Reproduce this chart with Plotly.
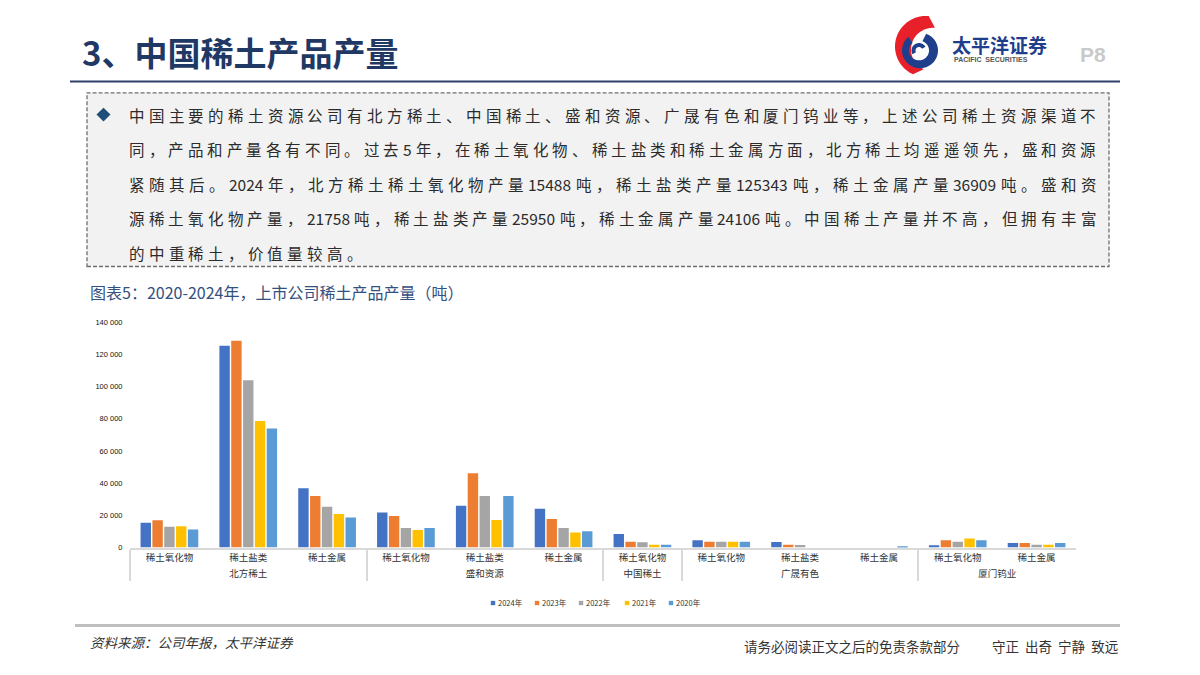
import re
import math
import plotly.graph_objects as go

# ---------------- data ----------------
companies = ["北方稀土", "北方稀土", "北方稀土", "盛和资源", "盛和资源", "盛和资源",
             "中国稀土", "广晟有色", "广晟有色", "广晟有色", "厦门钨业", "厦门钨业"]
products = ["稀土氧化物", "稀土盐类", "稀土金属", "稀土氧化物", "稀土盐类", "稀土金属",
            "稀土氧化物", "稀土氧化物", "稀土盐类", "稀土金属", "稀土氧化物", "稀土金属"]
years = ["2024年", "2023年", "2022年", "2021年", "2020年"]
v2024 = [15488, 125343, 36909, 21758, 25950, 24106, 8400, 4600, 3500, None, 1500, 2800]
v2023 = [17000, 128400, 32000, 19600, 46100, 17700, 3600, 3600, 1800, None, 4500, 2800]
v2022 = [12900, 104000, 25300, 12100, 32000, 12100, 3300, 3600, 1600, None, 3600, 1700]
v2021 = [13300, 78700, 20800, 10900, 17100, 9400, 1700, 3600, None, None, 5700, 1700]
v2020 = [11300, 74000, 18700, 12100, 32000, 10200, 1700, 3600, None, 500, 4500, 2800]
series = [v2024, v2023, v2022, v2021, v2020]
colors = ["#4472C4", "#ED7D31", "#A5A5A5", "#FFC000", "#5B9BD5"]
ytick_vals = [0, 20000, 40000, 60000, 80000, 100000, 120000, 140000]

title_text = "3、中国稀土产品产量"
chart_title = "图表5：2020-2024年，上市公司稀土产品产量（吨）"
body_lines = [
    "中国主要的稀土资源公司有北方稀土、中国稀土、盛和资源、广晟有色和厦门钨业等，上述公司稀土资源渠道不",
    "同，产品和产量各有不同。过去5年，在稀土氧化物、稀土盐类和稀土金属方面，北方稀土均遥遥领先，盛和资源",
    "紧随其后。2024年，北方稀土稀土氧化物产量15488吨，稀土盐类产量125343吨，稀土金属产量36909吨。盛和资",
    "源稀土氧化物产量，21758吨，稀土盐类产量25950吨，稀土金属产量24106吨。中国稀土产量并不高，但拥有丰富",
    "的中重稀土，价值量较高。",
]
source_text = "资料来源：公司年报，太平洋证券"
disclaimer = "请务必阅读正文之后的免责条款部分"
motto = "守正  出奇  宁静  致远"

OX, OY = 8, 8          # page body margin offset
W, H = 1200 - 2 * OX, 675 - 2 * OY
CJK = "Noto Sans CJK SC"


def px(x, y):
    return (x - OX) / W, 1 - (y - OY) / H


fig = go.Figure()
for name, vals, c in zip(years, series, colors):
    fig.add_trace(go.Bar(x=[companies, products], y=vals, name=name,
                         marker=dict(color=c, line=dict(width=0)),
                         showlegend=False))

plot_l, plot_r = 130, 1076
plot_b, plot_t = 551, 322.5

fig.update_layout(
    width=W, height=H,
    margin=dict(l=0, r=0, t=0, b=0),
    paper_bgcolor="white", plot_bgcolor="rgba(0,0,0,0)",
    barmode="group", bargap=0.25, bargroupgap=0.12,
    font=dict(family=CJK, color="#222"),
    xaxis=dict(domain=[px(plot_l, 0)[0], px(plot_r, 0)[0]], showgrid=False,
               showline=True, linecolor="#D9D9D9", linewidth=2,
               tickfont=dict(size=9.5, family=CJK, color="#333"),
               showdividers=True, dividercolor="#D9D9D9", dividerwidth=1.5,
               ticks=""),
    yaxis=dict(domain=[px(0, plot_b)[1], px(0, plot_t)[1]], range=[0, 140000],
               showgrid=False, zeroline=False, showline=False,
               tickvals=ytick_vals, tickformat=",d",
               tickfont=dict(size=7.5, family="Liberation Sans", color="#111"),
               ticks="outside", ticklen=5, tickcolor="rgba(0,0,0,0)"),
    separators=". ",
)

shapes = []
annotations = []


def pts_path(pts):
    return "M " + " L ".join(f"{p[0]:.5f},{p[1]:.5f}" for p in pts) + " Z"


# title + header line
x0, y0 = px(80, 49)
annotations.append(dict(x=x0, y=y0, xref="paper", yref="paper", xanchor="left", yanchor="middle",
                        text="<b>" + title_text + "</b>", showarrow=False,
                        font=dict(size=33, family=CJK, color="#1F3864")))
a, b = px(70, 78.5)
c, d = px(1120, 78.5)
shapes.append(dict(type="line", xref="paper", yref="paper", x0=a, y0=b, x1=c, y1=d,
                   line=dict(color="#2E4068", width=2)))


# logo
def ring_path(cx, cy, r_out, r_in, a0, a1, cx2=None, cy2=None, n=60):
    cx2 = cx if cx2 is None else cx2
    cy2 = cy if cy2 is None else cy2
    pts = []
    for i in range(n + 1):
        t = math.radians(a0 + (a1 - a0) * i / n)
        pts.append(px(cx + r_out * math.cos(t), cy + r_out * math.sin(t)))
    for i in range(n + 1):
        t = math.radians(a1 - (a1 - a0) * i / n)
        pts.append(px(cx2 + r_in * math.cos(t), cy2 + r_in * math.sin(t)))
    return pts_path(pts)


shapes.append(dict(type="path", xref="paper", yref="paper",
                   path=ring_path(926, 43, 31, 22, -85, -245, cx2=933, cy2=46),
                   fillcolor="#E8202A", line=dict(width=0)))
shapes.append(dict(type="path", xref="paper", yref="paper",
                   path=ring_path(920, 47, 18, 10, -70, 230, cx2=919, cy2=47),
                   fillcolor="#1F3E8C", line=dict(width=0)))
shapes.append(dict(type="path", xref="paper", yref="paper",
                   path=ring_path(919, 47, 7.5, 3.5, 150, 330),
                   fillcolor="#1F3E8C", line=dict(width=0)))
x0, y0 = px(950, 41)
annotations.append(dict(x=x0, y=y0, xref="paper", yref="paper", xanchor="left", yanchor="middle",
                        text="<b>太平洋证券</b>", showarrow=False,
                        font=dict(size=19, family=CJK, color="#1F3E8C")))
x0, y0 = px(952, 56)
annotations.append(dict(x=x0, y=y0, xref="paper", yref="paper", xanchor="left", yanchor="middle",
                        text="<b>PACIFIC  SECURITIES</b>", showarrow=False,
                        font=dict(size=7, family="Liberation Sans", color="#555")))
x0, y0 = px(1078, 51)
annotations.append(dict(x=x0, y=y0, xref="paper", yref="paper", xanchor="left", yanchor="middle",
                        text="<b>P8</b>", showarrow=False,
                        font=dict(size=21, family="Liberation Sans", color="#C9C9C9")))

# text box
a, b = px(87, 90)
c, d = px(1109, 266)
shapes.append(dict(type="rect", xref="paper", yref="paper", x0=a, y0=d, x1=c, y1=b,
                   fillcolor="#F2F2F2", line=dict(color="#6E6E6E", width=1.3, dash="4px,2px"),
                   layer="below"))
dcx, dcy, dr = 103.5, 112, 7
shapes.append(dict(type="path", xref="paper", yref="paper",
                   path=pts_path([px(dcx, dcy - dr), px(dcx + dr, dcy),
                                  px(dcx, dcy + dr), px(dcx - dr, dcy)]),
                   fillcolor="#1F4E79", line=dict(width=0)))

FS = 15.5


def tokens_of(s):
    return re.findall(r"[0-9A-Za-z]+|.", s)


def tok_w(t):
    if re.match(r"[0-9A-Za-z]", t):
        return len(t) * 0.56 * FS
    return FS


line_y = [112, 147, 182, 217, 252]
tx0, tx1 = 127, 1094
pitch_gaps = []
for i, line in enumerate(body_lines):
    toks = tokens_of(line)
    widths = [tok_w(t) for t in toks]
    if i < len(body_lines) - 1:
        gap = (tx1 - tx0 - sum(widths)) / (len(toks) - 1)
        pitch_gaps.append(gap)
    else:
        gap = sum(pitch_gaps) / len(pitch_gaps)
    x = tx0
    for t, w in zip(toks, widths):
        xx, yy = px(x, line_y[i])
        annotations.append(dict(x=xx, y=yy, xref="paper", yref="paper", xanchor="left",
                                yanchor="middle", text=t, showarrow=False,
                                font=dict(size=FS, family=CJK, color="#2B2B2B")))
        x += w + gap

# chart title
x0, y0 = px(88, 292)
annotations.append(dict(x=x0, y=y0, xref="paper", yref="paper", xanchor="left", yanchor="middle",
                        text=chart_title, showarrow=False,
                        font=dict(size=16, family=CJK, color="#34507E")))

# legend (drawn from the series names/colours)
leg_x = [493, 537, 581, 627, 671]
for xL, name, c in zip(leg_x, years, colors):
    a, b = px(xL - 2.2, 605)
    c2, d = px(xL + 2.2, 609.4)
    shapes.append(dict(type="rect", xref="paper", yref="paper", x0=a, y0=d, x1=c2, y1=b,
                       fillcolor=c, line=dict(width=0)))
    xx, yy = px(xL + 3, 607)
    annotations.append(dict(x=xx, y=yy, xref="paper", yref="paper", xanchor="left",
                            yanchor="middle", text=name, showarrow=False,
                            font=dict(size=7.5, family=CJK, color="#333")))

# footer
a, b = px(75, 630)
c, d = px(1120, 630)
shapes.append(dict(type="line", xref="paper", yref="paper", x0=a, y0=b, x1=c, y1=d,
                   line=dict(color="#BFBFBF", width=3)))
x0, y0 = px(88, 647)
annotations.append(dict(x=x0, y=y0, xref="paper", yref="paper", xanchor="left", yanchor="middle",
                        text="<i>" + source_text + "</i>", showarrow=False,
                        font=dict(size=13.5, family=CJK, color="#333")))
x0, y0 = px(962, 651)
annotations.append(dict(x=x0, y=y0, xref="paper", yref="paper", xanchor="right", yanchor="middle",
                        text=disclaimer, showarrow=False,
                        font=dict(size=13.5, family=CJK, color="#333")))
x0, y0 = px(1121, 651)
annotations.append(dict(x=x0, y=y0, xref="paper", yref="paper", xanchor="right", yanchor="middle",
                        text=motto, showarrow=False,
                        font=dict(size=13.5, family=CJK, color="#333")))

fig.update_layout(shapes=shapes, annotations=annotations)
fig.write_html("out.html")
